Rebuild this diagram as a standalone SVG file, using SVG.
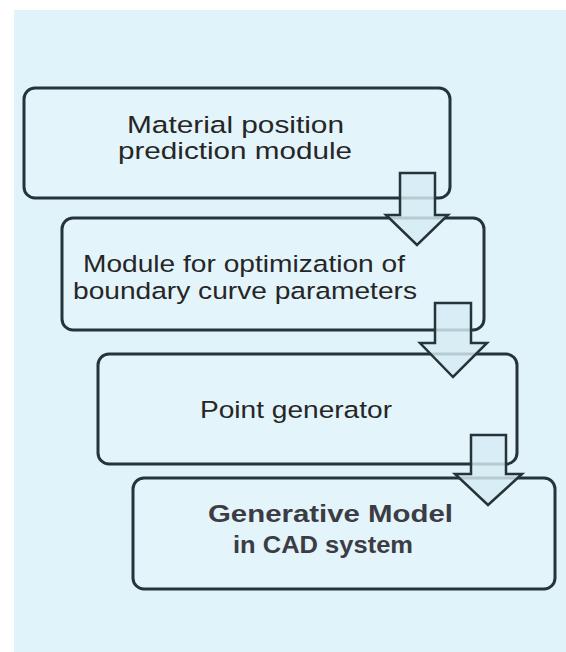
<svg xmlns="http://www.w3.org/2000/svg" width="566" height="652" viewBox="0 0 566 652">
<style>
.box{fill:#e3f4fb;stroke:#25343a;stroke-width:3}
.arr{fill:#d6ebf3;fill-opacity:0.82;stroke:#25343a;stroke-width:2.5;stroke-linejoin:miter}
.t{font-family:"Liberation Sans",Arial,sans-serif;font-size:24.5px;fill:#262626}
.b{font-family:"Liberation Sans",Arial,sans-serif;font-size:24px;font-weight:bold;fill:#3c3c44}
</style>
<rect x="0" y="0" width="566" height="652" fill="#ffffff"/>
<rect x="14" y="10" width="552" height="642" fill="#e0f3fa"/>
<g id="node1">
<rect class="box" x="24" y="88" width="426" height="110" rx="11"/>
<text class="t" x="127" y="133" textLength="217" lengthAdjust="spacingAndGlyphs">Material position</text>
<text class="t" x="118" y="159" textLength="234" lengthAdjust="spacingAndGlyphs">prediction module</text>
</g>
<g id="node2">
<rect class="box" x="62" y="218" width="422" height="112" rx="11"/>
<text class="t" x="83" y="272" textLength="322" lengthAdjust="spacingAndGlyphs">Module for optimization of</text>
<text class="t" x="73" y="299" textLength="344" lengthAdjust="spacingAndGlyphs">boundary curve parameters</text>
</g>
<g id="node3">
<rect class="box" x="98" y="354" width="419" height="110" rx="11"/>
<text class="t" x="200" y="418" textLength="192" lengthAdjust="spacingAndGlyphs">Point generator</text>
</g>
<g id="node4">
<rect class="box" x="133" y="478" width="422" height="111" rx="11"/>
<text class="b" x="208" y="522" textLength="245" lengthAdjust="spacingAndGlyphs">Generative Model</text>
<text class="b" x="233" y="553" textLength="180" lengthAdjust="spacingAndGlyphs">in CAD system</text>
</g>
<g id="connectors">
<polygon class="arr" points="400,173 435,173 435,215 448,215 417,245 386,215 400,215"/>
<polygon class="arr" points="435,303 471,303 471,343 487,343 453,377 420,343 435,343"/>
<polygon class="arr" points="471,435 506,435 506,474 522,474 488,505 455,474 471,474"/>
</g>
</svg>
